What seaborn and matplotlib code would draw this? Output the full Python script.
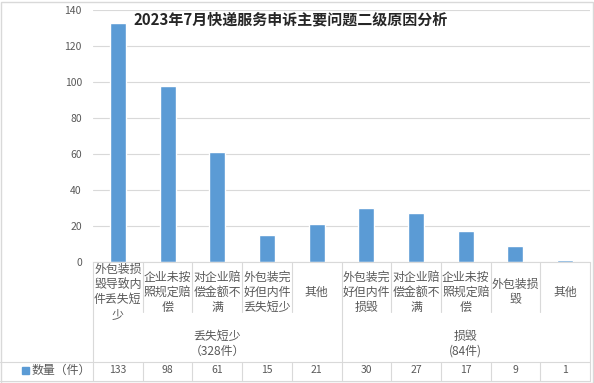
import pandas as pd
import matplotlib.pyplot as plt
import matplotlib.transforms as mtransforms
from matplotlib.patches import Rectangle
import seaborn as sns

# data
groups = ['丢失短少\n（328件）', '损毁\n(84件)']
group_sizes = [5, 5]
categories = ['外包装损毁导致内件丢失短少', '企业未按照规定赔偿', '对企业赔偿金额不满',
              '外包装完好但内件丢失短少', '其他',
              '外包装完好但内件损毁', '对企业赔偿金额不满', '企业未按照规定赔偿',
              '外包装损毁', '其他']
counts = [133, 98, 61, 15, 21, 30, 27, 17, 9, 1]
series_name = '数量（件）'
yticks = [0, 20, 40, 60, 80, 100, 120, 140]

sns.set_style('white')
plt.rcParams['font.family'] = ['Noto Sans CJK SC', 'DejaVu Sans']

W, H = 594, 383
BAR = '#5B9BD5'
LINE = '#D9D9D9'
TXT = '#595959'

df = pd.DataFrame({'key': [f'{i}_{c}' for i, c in enumerate(categories)],
                   'count': counts})

fig = plt.figure(figsize=(W / 100, H / 100), dpi=100)
ax = fig.add_axes([93 / W, 1 - 262 / H, (590 - 93) / W, (262 - 10) / H])
sns.barplot(data=df, x='key', y='count', color=BAR, width=0.32, saturation=1, ax=ax)

ax.set_ylim(0, 140)
ax.set_yticks(yticks)
ax.tick_params(axis='y', length=0, labelsize=7.5, labelcolor=TXT, pad=8)
ax.set_xticks([])
ax.set_xlabel('')
ax.set_ylabel('')
ax.grid(axis='y', color=LINE, linewidth=0.8)
ax.set_axisbelow(True)
for s in ['top', 'right', 'left']:
    ax.spines[s].set_visible(False)
ax.spines['bottom'].set_color(LINE)
ax.set_xlim(-0.5, len(categories) - 0.5)

# data-table below the axis: x in data units, y in figure pixels from top
trans = mtransforms.blended_transform_factory(ax.transData, fig.transFigure)


def fy(py):
    return 1 - py / H


def wrap(s, n=4):
    return '\n'.join(s[i:i + n] for i in range(0, len(s), n))


n = len(categories)
bounds = [i - 0.5 for i in range(n + 1)]
group_edges = [-0.5]
for g in group_sizes:
    group_edges.append(group_edges[-1] + g)

for b in bounds:
    if b in group_edges:
        ax.plot([b, b], [fy(262), fy(381)], transform=trans, color=LINE, lw=0.8, clip_on=False)
    else:
        ax.plot([b, b], [fy(262), fy(312)], transform=trans, color=LINE, lw=0.8, clip_on=False)
        ax.plot([b, b], [fy(362), fy(381)], transform=trans, color=LINE, lw=0.8, clip_on=False)

for i, c in enumerate(categories):
    ax.text(i, fy(292), wrap(c), transform=trans, ha='center', va='center',
            fontsize=8.6, color=TXT, linespacing=1.2)
    ax.text(i, fy(370), str(counts[i]), transform=trans, ha='center', va='center',
            fontsize=7.5, color=TXT)

for g, lo, hi in zip(groups, group_edges[:-1], group_edges[1:]):
    ax.text((lo + hi) / 2, fy(344), g, transform=trans, ha='center', va='center',
            fontsize=8.6, color=TXT, linespacing=1.2)

# row lines spanning whole width
fig.add_artist(plt.Line2D([0, 590 / W], [fy(362), fy(362)], color=LINE, lw=0.8))
fig.add_artist(plt.Line2D([0, 590 / W], [fy(381), fy(381)], color=LINE, lw=0.8))

# legend key in the row header
fig.add_artist(Rectangle((22 / W, fy(374)), 7 / W, 7 / H, color=BAR, transform=fig.transFigure))
fig.text(31 / W, fy(370), series_name, ha='left', va='center', fontsize=8.6, color=TXT)

fig.text(291 / W, fy(19), '2023年7月快递服务申诉主要问题二级原因分析', ha='center', va='center',
         fontsize=10.8, fontweight='bold', color='#262626')

# chart border
fig.add_artist(Rectangle((0.5 / W, 0.5 / H), (W - 2) / W, (H - 2) / H, fill=False,
                         edgecolor=LINE, lw=1, transform=fig.transFigure))

fig.savefig('out.png', dpi=100)
